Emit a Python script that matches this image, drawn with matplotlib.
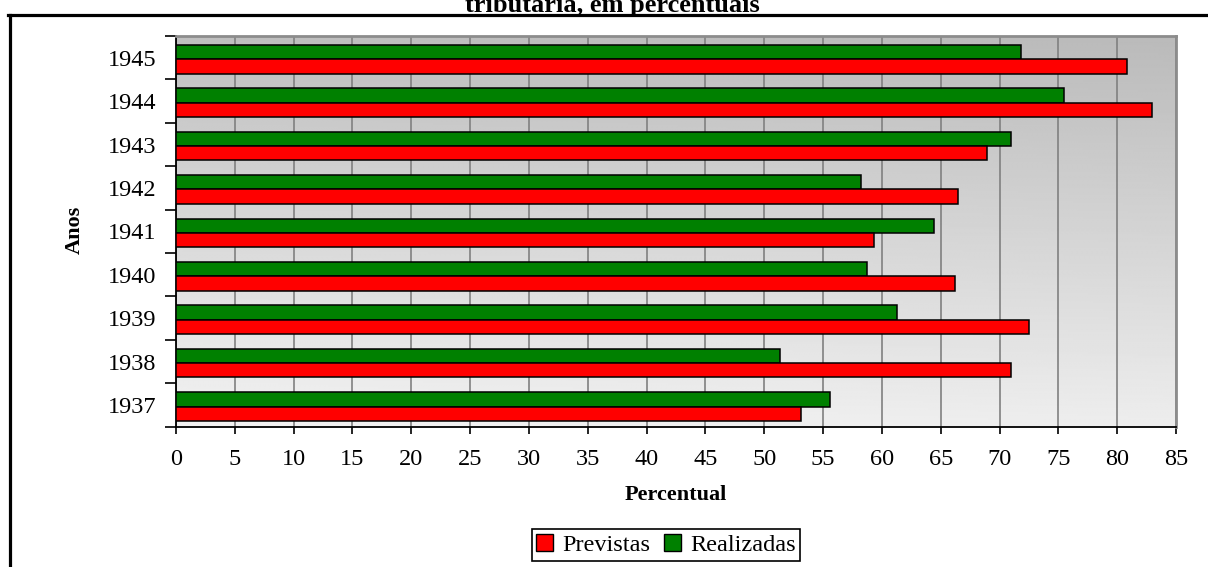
import numpy as np
import matplotlib
matplotlib.use('Agg')
import matplotlib.pyplot as plt
from matplotlib.patches import Patch
from matplotlib.lines import Line2D

# data
anos = ['1937', '1938', '1939', '1940', '1941', '1942', '1943', '1944', '1945']
previstas = [53.1, 71.0, 72.5, 66.2, 59.3, 66.5, 68.9, 83.0, 80.8]
realizadas = [55.6, 51.3, 61.3, 58.7, 64.4, 58.2, 71.0, 75.5, 71.8]
titulo = 'tributária, em percentuais'

plt.rcParams['font.family'] = ['Liberation Serif', 'DejaVu Serif']

W, H = 1208, 567
fig = plt.figure(figsize=(W/100, H/100), dpi=100)
ax = fig.add_axes([176/W, 1-426.7/H, 1000/W, (426.7-36)/H])

# gradient background (darker top, lighter bottom)
ny, nx = 200, 200
fy = np.linspace(0, 1, ny)[:, None]
fx = np.linspace(0, 1, nx)[None, :]
grad = 0.95 - 0.20*fy - 0.02*fx
ax.imshow(grad, cmap='gray', vmin=0, vmax=1, extent=[0, 85, -0.5, 8.5],
          origin='lower', aspect='auto', zorder=0, interpolation='bilinear')

y = np.arange(len(anos))
h = 0.33
off = -0.035
ax.barh(y + off + h/2, realizadas, height=h, color='#008000', edgecolor='black', linewidth=1.1, zorder=3)
ax.barh(y + off - h/2, previstas, height=h, color='#ff0000', edgecolor='black', linewidth=1.1, zorder=3)

ax.set_xlim(0, 85)
ax.set_ylim(-0.5, 8.5)
ax.set_xticks(np.arange(0, 90, 5))
ax.xaxis.grid(True, color='#808080', linewidth=1.2, zorder=1)
ax.set_axisbelow(True)

ax.set_yticks(y)
ax.set_yticklabels(anos)
ax.set_yticks(np.arange(-0.5, 9, 1), minor=True)
ax.tick_params(axis='y', which='major', length=0, pad=14, labelsize=17.5)
ax.tick_params(axis='y', which='minor', length=8, width=1.2, direction='out', color='black')
ax.tick_params(axis='x', which='major', length=5, width=1.2, direction='out', pad=11, labelsize=17.5)

for s in ['left', 'bottom']:
    ax.spines[s].set_color('black')
    ax.spines[s].set_linewidth(1.3)
for s in ['top', 'right']:
    ax.spines[s].set_color('#8c8c8c')
    ax.spines[s].set_linewidth(2)

fig.text(676/W, 1-495/H, 'Percentual', ha='center', va='center', fontsize=16, fontweight='bold')
fig.text(75/W, 1-230/H, 'Anos', ha='center', va='center', rotation=90, fontsize=16, fontweight='bold')
fig.text(612/W, 1-12/H, titulo, ha='center', va='baseline', fontsize=19, fontweight='bold')

handles = [Patch(facecolor='#ff0000', edgecolor='black', linewidth=1),
           Patch(facecolor='#008000', edgecolor='black', linewidth=1)]
leg = fig.legend(handles, ['Previstas', 'Realizadas'], loc='center',
                 bbox_to_anchor=(666/W, 1-545/H), ncol=2, fontsize=17.5,
                 fancybox=False, edgecolor='black', framealpha=1,
                 handlelength=0.7, handleheight=0.7, handletextpad=0.35,
                 columnspacing=0.6, borderpad=0.2, borderaxespad=0)
leg.get_frame().set_linewidth(1.2)

# outer frame (left and top visible)
fig.add_artist(Line2D([9.5/W, 9.5/W], [0, 1-15/H], transform=fig.transFigure, color='black', linewidth=2.3))
fig.add_artist(Line2D([8/W, 1], [1-15/H, 1-15/H], transform=fig.transFigure, color='black', linewidth=2.3))

fig.savefig('out.png', dpi=100)
